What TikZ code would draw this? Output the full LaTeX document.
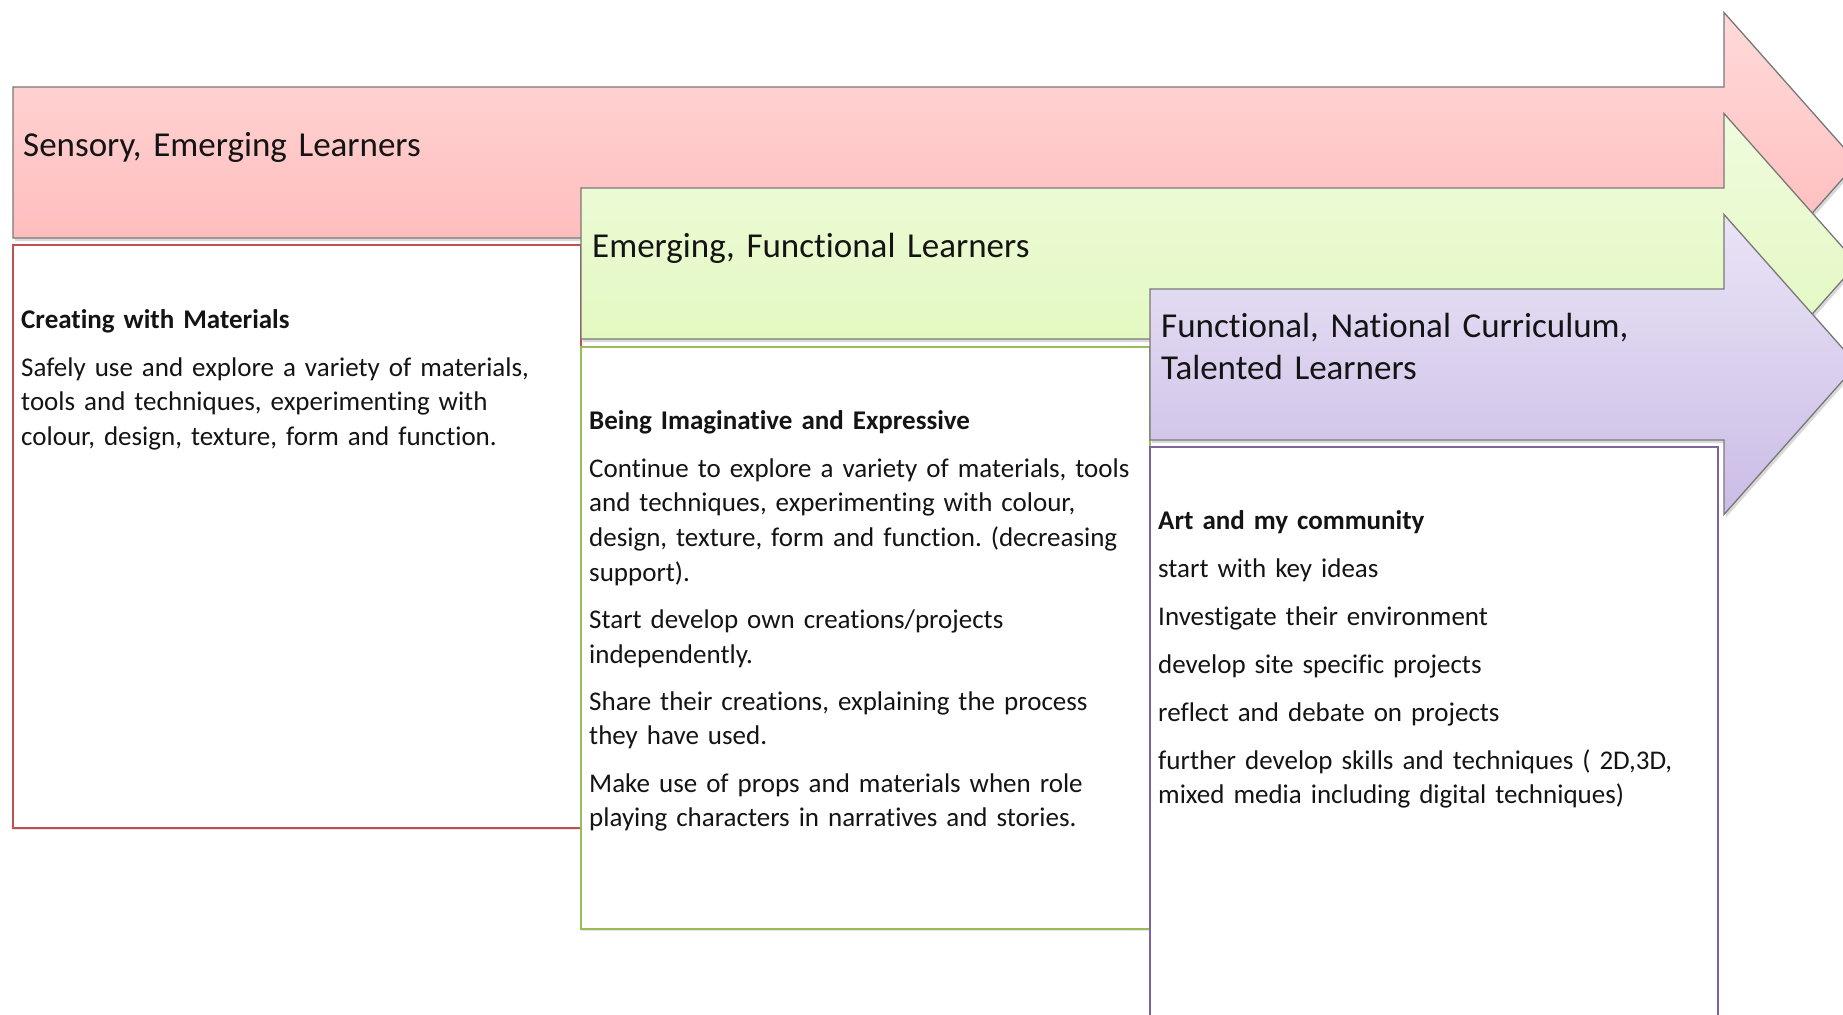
\documentclass[tikz,border=0pt]{standalone}
\usepackage{fontspec}
\setmainfont{Carlito}[Ligatures=NoCommon]
\usetikzlibrary{shadows}
\frenchspacing

% stage colours
\definecolor{redtop}{RGB}{255,218,218}
\definecolor{redbot}{RGB}{255,180,180}
\definecolor{greentop}{RGB}{240,251,222}
\definecolor{greenbot}{RGB}{223,248,184}
\definecolor{purpletop}{RGB}{234,228,246}
\definecolor{purplebot}{RGB}{203,188,230}
\definecolor{redline}{RGB}{192,80,77}
\definecolor{greenline}{RGB}{155,187,89}
\definecolor{purpleline}{RGB}{128,100,162}
\definecolor{arrowline}{RGB}{120,120,120}
\definecolor{inktext}{RGB}{20,20,20}

\begin{document}
\begin{tikzpicture}[x=1pt,y=-1pt,
  stagearrow/.style={draw=arrowline, line width=1.3pt, line join=miter,
    drop shadow={shadow xshift=2pt, shadow yshift=-3pt, opacity=0.3}},
  stagebox/.style={fill=white, line width=1.5pt,
    drop shadow={shadow xshift=0pt, shadow yshift=-2pt, opacity=0.2}},
  headtext/.style={anchor=base west, inner sep=0pt, text=inktext,
    font=\fontsize{35}{42.5}\selectfont, text width=640pt, align=left},
  bodytext/.style={anchor=base west, inner sep=0pt, text=inktext,
    font=\fontsize{27}{34.7}\selectfont, text width=700pt, align=left}]
\useasboundingbox (0,0) rectangle (1843,1014);
\begin{scope}
\clip (0,0) rectangle (1843,1014);

% first stage
\path[stagearrow, top color=redtop, bottom color=redbot]
  (13,87) -- (1724,87) -- (1724,12.5) -- (1857,162.5) -- (1724,312.5)
  -- (1724,238) -- (13,238) -- cycle;
\path[stagebox, draw=redline] (13,245) rectangle (581,828);
\node[headtext] (stage1) at (23,157) {Sensory, Emerging Learners};
\node[bodytext] (text1) at (21,328) {\textbf{Creating with Materials}\\[13.3pt]
  Safely use and explore a variety of materials,\\
  tools and techniques, experimenting with\\
  colour, design, texture, form and function.};

% second stage
\path[stagearrow, top color=greentop, bottom color=greenbot]
  (581,188) -- (1724,188) -- (1724,113.5) -- (1857,263.5) -- (1724,413.5)
  -- (1724,339) -- (581,339) -- cycle;
\path[stagebox, draw=greenline] (581,347) rectangle (1150,929);
\node[headtext] (stage2) at (592,257) {Emerging, Functional Learners};
\node[bodytext] (text2) at (589,429) {\textbf{Being Imaginative and Expressive}\\[13.3pt]
  Continue to explore a variety of materials, tools\\
  and techniques, experimenting with colour,\\
  design, texture, form and function. (decreasing\\
  support).\\[12.5pt]
  Start develop own creations/projects\\
  independently.\\[12.5pt]
  Share their creations, explaining the process\\
  they have used.\\[12.5pt]
  Make use of props and materials when role\\
  playing characters in narratives and stories.};

% third stage
\path[stagearrow, top color=purpletop, bottom color=purplebot]
  (1150,289) -- (1724,289) -- (1724,214.5) -- (1857,364.5) -- (1724,514.5)
  -- (1724,440) -- (1150,440) -- cycle;
\path[stagebox, draw=purpleline] (1150,447) rectangle (1718,1040);
\node[headtext] (stage3) at (1161,337) {Functional, National Curriculum,\\
  Talented Learners};
\node[bodytext] (text3) at (1158,529) {\textbf{Art and my community}\\[13.3pt]
  start with key ideas\\[13.3pt]
  Investigate their environment\\[13.3pt]
  develop site specific projects\\[13.3pt]
  reflect and debate on projects\\[13.3pt]
  further develop skills and techniques ( 2D,3D,\\
  mixed media including digital techniques)};
\end{scope}
\end{tikzpicture}
\end{document}
